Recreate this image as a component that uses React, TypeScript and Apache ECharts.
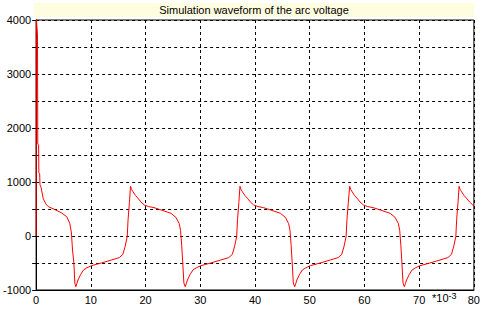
import React, { useEffect, useRef } from "react";
import * as echarts from "echarts";

const titleText = "Simulation waveform of the arc voltage";
const xTicks = [0, 10, 20, 30, 40, 50, 60, 70, 80];
const yTickLabels = [-1000, 0, 1000, 2000, 3000, 4000];

// time in ms (x 10^-3 s)
const timeStart = [0, 0.03, 0.25, 0.3, 0.45, 0.5, 0.65, 0.7, 0.9, 1.3, 1.8, 2.2, 3.4, 4.6, 5.6, 6.15, 6.45, 6.65, 6.9, 7.07];
const voltStart = [0, 4050, 3720, 1700, 1690, 1170, 1150, 950, 900, 690, 590, 545, 490, 431, 357, 234, 55, -260, -500, -870];

const timeNeg1 = [7.25, 7.45, 7.65, 8.15, 8.65, 9.25, 10.1, 11.9, 13.75, 15.2, 15.85, 16.25, 16.65, 16.8, 17.05];
const voltNeg1 = [-940, -880, -815, -710, -630, -590, -550, -500, -445, -400, -340, -200, -10, 300, 620];
const timePos1 = [17.25, 17.45, 17.7, 18.15, 18.6, 19.15, 19.75, 20.55, 21.55, 22.85, 24.65, 25.55, 26.15, 26.4, 26.6, 26.8, 27.0];
const voltPos1 = [920, 860, 820, 750, 700, 630, 575, 545, 525, 482, 420, 345, 230, 100, -170, -500, -870];

const timeNeg2 = [27.25, 27.45, 27.65, 28.15, 28.65, 29.25, 30.1, 31.9, 33.75, 35.2, 35.85, 36.25, 36.65, 36.8, 37.05];
const voltNeg2 = [-940, -880, -815, -710, -630, -590, -550, -500, -445, -400, -340, -200, -10, 300, 620];
const timePos2 = [37.25, 37.45, 37.7, 38.15, 38.6, 39.15, 39.75, 40.55, 41.55, 42.85, 44.65, 45.55, 46.15, 46.4, 46.6, 46.8, 47.0];
const voltPos2 = [920, 860, 820, 750, 700, 630, 575, 545, 525, 482, 420, 345, 230, 100, -170, -500, -870];

const timeNeg3 = [47.25, 47.45, 47.65, 48.15, 48.65, 49.25, 50.1, 51.9, 53.75, 55.2, 55.85, 56.25, 56.65, 56.8, 57.05];
const voltNeg3 = [-940, -880, -815, -710, -630, -590, -550, -500, -445, -400, -340, -200, -10, 300, 620];
const timePos3 = [57.3, 57.5, 57.75, 58.2, 58.65, 59.2, 59.8, 60.6, 61.6, 62.9, 64.7, 65.6, 66.2, 66.45, 66.65, 66.85, 67.05];
const voltPos3 = [920, 860, 820, 750, 700, 630, 575, 545, 525, 482, 420, 345, 230, 100, -170, -500, -870];

const timeNeg4 = [67.3, 67.5, 67.7, 68.2, 68.7, 69.3, 70.15, 71.95, 73.8, 75.25, 75.9, 76.3, 76.7, 76.85, 77.1];
const voltNeg4 = [-940, -880, -815, -710, -630, -590, -550, -500, -445, -400, -340, -200, -10, 300, 620];
const timePos4 = [77.3, 77.5, 77.75, 78.2, 78.65, 79.2, 79.8, 80];
const voltPos4 = [920, 860, 820, 750, 700, 630, 575, 550];

const timeAll = [
  ...timeStart, ...timeNeg1, ...timePos1, ...timeNeg2, ...timePos2,
  ...timeNeg3, ...timePos3, ...timeNeg4, ...timePos4,
];
const voltAll = [
  ...voltStart, ...voltNeg1, ...voltPos1, ...voltNeg2, ...voltPos2,
  ...voltNeg3, ...voltPos3, ...voltNeg4, ...voltPos4,
];

export default function App() {
  const ref = useRef<HTMLDivElement>(null);
  useEffect(() => {
    document.body.style.margin = "0";
    const chart = echarts.init(ref.current!, null, { renderer: "svg" });
    const font = "Arial, 'Liberation Sans', sans-serif";
    chart.setOption({
      animation: false,
      backgroundColor: "#ffffff",
      graphic: [
        {
          type: "rect",
          shape: { x: 34, y: 3, width: 440, height: 14 },
          style: { fill: "#fffde0" },
          silent: true,
        },
        {
          type: "text",
          x: 254,
          y: 10,
          style: {
            text: titleText,
            fill: "#000",
            font: `11px ${font}`,
            textAlign: "center",
            textVerticalAlign: "middle",
          },
        },
        {
          type: "text",
          x: 432,
          y: 298,
          style: {
            text: "{a|*10}{b|-3}",
            rich: {
              a: { fontSize: 11, fontFamily: font, color: "#000" },
              b: { fontSize: 9, fontFamily: font, color: "#6a7aa0", verticalAlign: "top", padding: [0, 0, 5, 0] },
            },
            textVerticalAlign: "middle",
          },
        },
      ],
      grid: {
        left: 34,
        right: 9,
        top: 20,
        bottom: 21,
        show: true,
        borderColor: "#000",
        borderWidth: 1,
      },
      xAxis: {
        type: "value",
        min: 0,
        max: 80,
        interval: 10,
        axisLine: { show: true, onZero: false, lineStyle: { color: "#000", width: 1 } },
        axisTick: { show: false },
        axisLabel: {
          color: "#000",
          fontSize: 11,
          fontFamily: font,
          margin: 4,
          formatter: (v: number) => (xTicks.includes(v) ? String(v) : ""),
        },
        splitLine: { show: true, lineStyle: { color: "#000", type: [3, 3], width: 1 } },
      },
      yAxis: {
        type: "value",
        min: -1000,
        max: 4000,
        interval: 500,
        axisLine: { show: true, onZero: false, lineStyle: { color: "#000", width: 1 } },
        axisTick: { show: true, length: 4, lineStyle: { color: "#000" } },
        axisLabel: {
          color: "#000",
          fontSize: 11,
          fontFamily: font,
          margin: 5,
          formatter: (v: number) => (yTickLabels.includes(v) ? String(v) : ""),
        },
        splitLine: { show: true, lineStyle: { color: "#000", type: [3, 3], width: 1 } },
      },
      series: [
        {
          type: "line",
          data: timeAll.map((t, i) => [t, voltAll[i]]),
          showSymbol: false,
          symbol: "none",
          clip: true,
          lineStyle: { color: "#ff0000", width: 1 },
        },
      ],
    });
    return () => chart.dispose();
  }, []);
  return <div ref={ref} style={{ width: 483, height: 311 }} />;
}
